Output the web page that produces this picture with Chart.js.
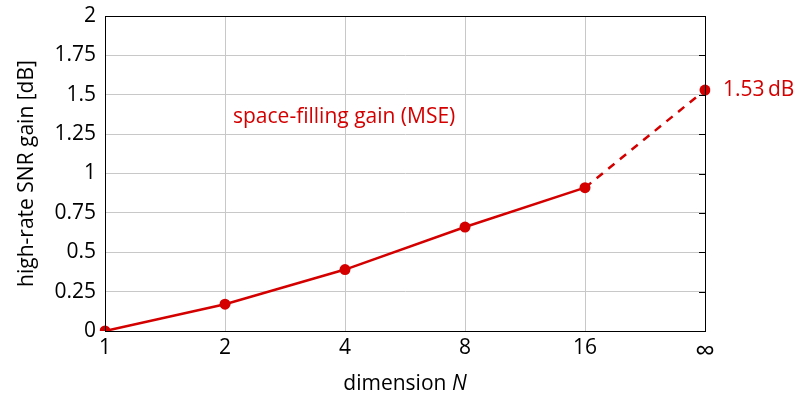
<!DOCTYPE html>
<html>
<head>
<meta charset="UTF-8">
<title>space-filling gain</title>
<script src="https://cdn.jsdelivr.net/npm/chart.js"></script>
<style>
  html, body { margin: 0; padding: 0; background: #fff; }
  #wrap { width: 803px; height: 394px; }
</style>
</head>
<body>
<div id="wrap"><canvas id="gainChart"></canvas></div>
<script>
// data
const dims = ['1', '2', '4', '8', '16', '\u221E'];
const gainFinite = [0, 0.17, 0.39, 0.66, 0.91, null];
const gainLimit = [null, null, null, null, 0.91, 1.53];
const yTicks = [0, 0.25, 0.5, 0.75, 1, 1.25, 1.5, 1.75, 2];

const red = '#d40000';
const fontFam = "'Open Sans', Lato, sans-serif";
const fs = 21;

// frame + red text labels + x title with italic N
const extras = {
  id: 'extras',
  afterDraw(chart) {
    const ctx = chart.ctx;
    const a = chart.chartArea;
    const xs = chart.scales.x, ys = chart.scales.y;
    ctx.save();
    ctx.strokeStyle = '#000';
    ctx.lineWidth = 1;
    ctx.strokeRect(a.left + 0.5, a.top + 0.5, a.right - a.left, a.bottom - a.top);
    // small inward ticks on right edge
    yTicks.forEach(v => {
      const y = Math.round(ys.getPixelForValue(v)) + 0.5;
      ctx.beginPath();
      ctx.moveTo(a.right - 6, y);
      ctx.lineTo(a.right, y);
      ctx.stroke();
    });

    ctx.fillStyle = red;
    ctx.font = fs + 'px ' + fontFam;
    ctx.textBaseline = 'middle';
    ctx.textAlign = 'left';
    ctx.fillText('space-filling gain (MSE)', xs.getPixelForValue(1) + 8, ys.getPixelForValue(1.36));
    ctx.fillText('1.53\u2009dB', xs.getPixelForValue(5) + 18, ys.getPixelForValue(1.53));

    ctx.fillStyle = '#000';
    ctx.textBaseline = 'alphabetic';
    const t1 = 'dimension ';
    ctx.font = fs + 'px ' + fontFam;
    const w1 = ctx.measureText(t1).width;
    ctx.font = 'italic ' + fs + 'px ' + fontFam;
    const w2 = ctx.measureText('N').width;
    const cx = (a.left + a.right) / 2;
    const x0 = cx - (w1 + w2) / 2;
    ctx.font = fs + 'px ' + fontFam;
    ctx.fillText(t1, x0, 390);
    ctx.font = 'italic ' + fs + 'px ' + fontFam;
    ctx.fillText('N', x0 + w1, 390);
    ctx.restore();
  }
};

new Chart(document.getElementById('gainChart'), {
  type: 'line',
  data: {
    labels: dims,
    datasets: [
      {
        data: gainFinite,
        borderColor: red,
        backgroundColor: red,
        borderWidth: 2.5,
        pointRadius: 5.5,
        pointBorderWidth: 0,
        spanGaps: false
      },
      {
        data: gainLimit,
        borderColor: red,
        backgroundColor: red,
        borderWidth: 2.5,
        borderDash: [8, 7],
        pointRadius: [0, 0, 0, 0, 0, 5.5],
        pointBorderWidth: 0
      }
    ]
  },
  options: {
    responsive: true,
    maintainAspectRatio: false,
    animation: false,
    layout: { padding: { left: 0, right: 98, top: 16, bottom: 0 } },
    plugins: { legend: { display: false }, tooltip: { enabled: false } },
    scales: {
      x: {
        type: 'category',
        offset: false,
        afterFit(axis) { axis.height = 63; },
        grid: { color: '#c8c8c8', drawTicks: false },
        border: { color: '#000' },
        ticks: {
          color: '#000',
          font: c => ({ family: fontFam, size: c.index === 5 ? 28 : fs }),
          padding: 4,
          maxRotation: 0
        }
      },
      y: {
        min: 0,
        max: 2,
        afterBuildTicks(axis) { axis.ticks = yTicks.map(v => ({ value: v })); },
        afterFit(axis) { axis.width = 105; axis.paddingTop = 0; axis.paddingBottom = 0; },
        grid: { color: '#c8c8c8', drawTicks: false },
        border: { color: '#000' },
        ticks: {
          color: '#000',
          font: { family: fontFam, size: fs },
          padding: 9,
          callback: v => String(v)
        },
        title: {
          display: true,
          text: 'high-rate SNR gain [dB]',
          color: '#000',
          font: { family: fontFam, size: fs },
          padding: { top: 14, bottom: 4 }
        }
      }
    }
  },
  plugins: [extras]
});
</script>
</body>
</html>
